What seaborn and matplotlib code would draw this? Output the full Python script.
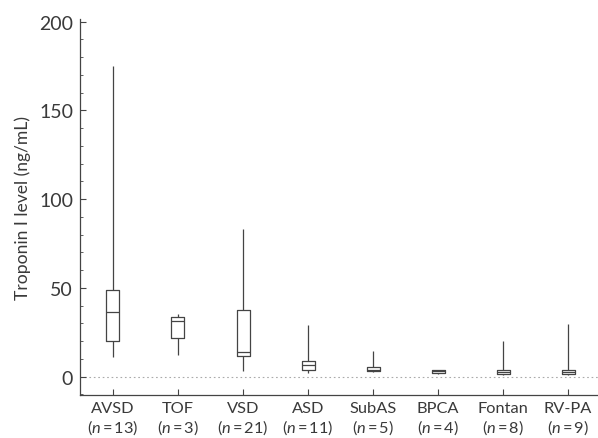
import matplotlib
matplotlib.use("Agg")
import matplotlib.pyplot as plt
from matplotlib.ticker import MultipleLocator
import seaborn as sns
import pandas as pd
import numpy as np

# Five-number summaries (ng/mL)
groups = ["AVSD", "TOF", "VSD", "ASD", "SubAS", "BPCA", "Fontan", "RV-PA"]
counts = [13, 3, 21, 11, 5, 4, 8, 9]
mins = [11.3, 12.4, 3.0, 2.1, 2.5, 1.8, 1.0, 1.2]
q1s = [20.3, 21.8, 11.8, 3.6, 3.0, 2.1, 1.5, 1.5]
medians = [36.3, 31.5, 13.7, 6.8, 3.9, 3.0, 2.5, 2.5]
q3s = [49.0, 33.8, 37.7, 9.0, 5.6, 3.8, 3.8, 3.8]
maxs = [175.2, 35.3, 83.2, 29.1, 14.3, 3.9, 20.0, 29.5]

rows = []
for g, a, b, c, d, e in zip(groups, mins, q1s, medians, q3s, maxs):
    for v in (a, b, c, d, e):
        rows.append({"group": g, "value": v})
df = pd.DataFrame(rows)

sns.set_theme(style="ticks")
plt.rcParams["font.family"] = ["Lato", "DejaVu Sans"]
plt.rcParams["mathtext.fontset"] = "custom"
plt.rcParams["mathtext.it"] = "Lato:italic"
plt.rcParams["mathtext.rm"] = "Lato"

text_col = "#3a3a3a"
line_col = "#444444"

fig = plt.figure(figsize=(5.98, 4.39), dpi=100)
ax = fig.add_axes([0.1338, 0.0984, 0.8662, 0.8560])

sns.boxplot(data=df, x="group", y="value", order=groups, whis=(0, 100),
            width=0.2, fill=False, color=line_col, linecolor=line_col,
            linewidth=0.9, showcaps=False, showfliers=False, ax=ax)

ax.axhline(0, color="#aaaaaa", linestyle=(0, (1.5, 2.5)), linewidth=0.8, zorder=0)

ax.set_xlim(-0.507, 7.46)
ax.set_ylim(-10.2, 201.5)
ax.yaxis.set_major_locator(MultipleLocator(50))
ax.yaxis.set_minor_locator(MultipleLocator(10))
ax.set_yticks([0, 50, 100, 150, 200])

labels = [f"{g}\n($\\mathit{{n}}$\u2009=\u2009{n})" for g, n in zip(groups, counts)]
ax.set_xticks(range(len(groups)))
ax.set_xticklabels(labels, fontsize=11.8, color=text_col, linespacing=1.15)
ax.tick_params(axis="y", labelsize=14, colors=text_col, pad=5)
ax.tick_params(axis="both", which="major", direction="in", length=4, width=0.8, color=line_col)
ax.tick_params(axis="y", which="minor", direction="in", length=2.5, width=0.6, color=line_col)
ax.tick_params(axis="x", which="major", pad=4.5)

ax.set_xlabel("")
ax.set_ylabel("Troponin I level (ng/mL)", fontsize=12.6, color=text_col, labelpad=6)

sns.despine(ax=ax)
for s in ("left", "bottom"):
    ax.spines[s].set_color(line_col)
    ax.spines[s].set_linewidth(0.9)

fig.savefig("out.png", dpi=100)
